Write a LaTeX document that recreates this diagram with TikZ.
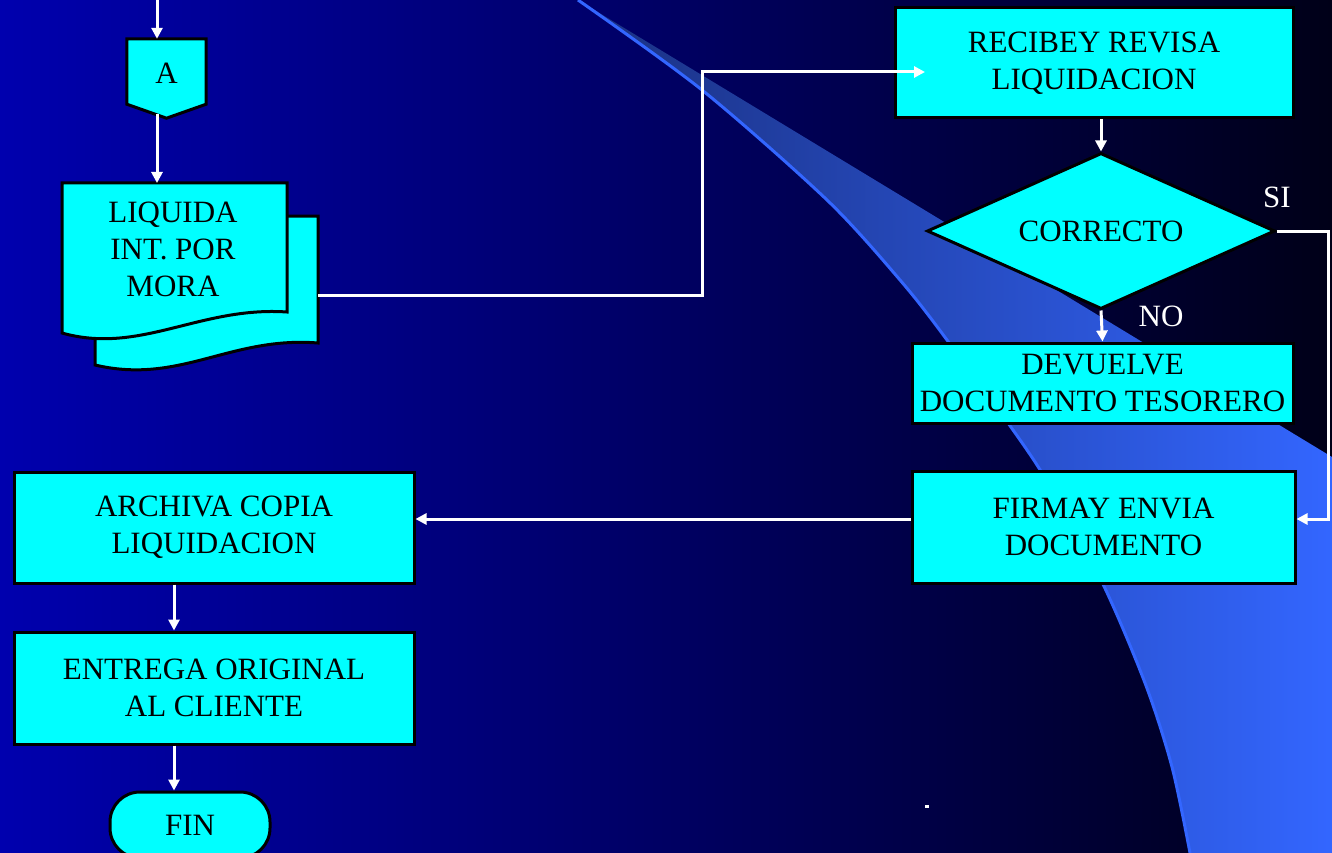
\documentclass[tikz,border=0pt]{standalone}
\usepackage{fontspec}
\setmainfont{Liberation Serif}
\usetikzlibrary{arrows.meta,shapes.geometric,calc}

\definecolor{boxcyan}{HTML}{00FFFF}
\definecolor{bgleft}{HTML}{0000AE}
\definecolor{bgmid}{HTML}{00007E}
\definecolor{bgright}{HTML}{000018}
\definecolor{swdark}{HTML}{1A3080}
\definecolor{swmid}{HTML}{2A50D2}
\definecolor{swlight}{HTML}{3366FF}

\newcommand\flowfont{\fontsize{31}{37}\selectfont}

\tikzset{
  flowbox/.style={draw=black, line width=3pt, fill=boxcyan, inner sep=0pt,
                  align=center, font=\flowfont, text=black},
  flowshape/.style={draw=black, line width=3pt, fill=boxcyan, line join=miter},
  blacktext/.style={inner sep=0pt, align=center, font=\flowfont, text=black},
  whitetext/.style={inner sep=0pt, font=\flowfont, text=white},
  conn/.style={draw=white, line width=3pt,
               -{Triangle[length=11pt,width=11pt]}},
}

\begin{document}
\begin{tikzpicture}[x=1pt,y=-1pt]
  \useasboundingbox (0,0) rectangle (1332,853);
  \clip (0,0) rectangle (1332,853);

  % background gradient
  \shade[left color=bgleft, middle color=bgmid, right color=bgright]
    (0,0) rectangle (1332,853);

  % decorative swoosh
  \shade[left color=swdark, middle color=swmid, right color=swlight]
    plot[smooth] coordinates {(578,0) (702,90) (827,200) (900,280) (947,340)
      (1037,465) (1100,578) (1145,683) (1172,767) (1190,853)}
    -- (1332,853) -- (1332,457) -- cycle;
  \draw[swlight, line width=3pt]
    plot[smooth] coordinates {(578,0) (702,90) (827,200) (900,280) (947,340)
      (1037,465) (1100,578) (1145,683) (1172,767) (1190,853)};

  % off-page connector A
  \node[inner sep=0pt, minimum width=79pt, minimum height=79pt] (offA) at (166.5,78.5) {};
  \filldraw[flowshape] (offA.north west) -- (offA.north east)
    -- ([yshift=14pt]offA.south east) -- (offA.south)
    -- ([yshift=14pt]offA.south west) -- cycle;
  \node[blacktext] (offAtxt) at (166.5,73) {A};
  \coordinate (topin) at (157,0);

  % multiple document
  \filldraw[flowshape] (95,216) -- (318,216) -- (318,343)
    .. controls (230,336) and (180,385) .. (95,365) -- cycle;
  \filldraw[flowshape] (62,183) -- (287,183) -- (287,312)
    .. controls (200,306) and (140,355) .. (62,333) -- cycle;
  \node[blacktext] (doctxt) at (173,249) {LIQUIDA\\INT. POR\\MORA};
  \coordinate (doctop) at (157,183);
  \coordinate (docout) at (318,295);

  % right column
  \node[flowbox, minimum width=398pt, minimum height=110pt] (rec) at (1094,63)
    {RECIBEY REVISA\\LIQUIDACION};
  \coordinate (recin) at (925,72);
  \node[flowbox, shape=diamond, aspect=2.23, minimum width=348pt,
        minimum height=156pt] (dec) at (1101,231) {CORRECTO};
  \node[flowbox, minimum width=381pt, minimum height=80pt] (dev) at (1102.5,383)
    {DEVUELVE\\DOCUMENTO TESORERO};
  \node[flowbox, minimum width=383pt, minimum height=112pt] (firm) at (1103.5,527)
    {FIRMAY ENVIA\\DOCUMENTO};

  % left column
  \node[flowbox, minimum width=400pt, minimum height=111pt] (arch) at (214,527.5)
    {ARCHIVA COPIA\\LIQUIDACION};
  \node[flowbox, minimum width=400pt, minimum height=112pt] (ent) at (214,688)
    {ENTREGA ORIGINAL\\AL CLIENTE};
  \node[flowbox, rounded corners=30pt, minimum width=160pt, minimum height=66pt]
    (fin) at (190,825) {FIN};

  % branch labels
  \node[whitetext] (si) at (1277,197) {SI};
  \node[whitetext] (no) at (1161,316) {NO};

  % connectors
  \draw[conn] (topin) -- (topin |- offA.north);
  \draw[conn] ([xshift=-9.5pt,yshift=4pt]offA.south) -- (doctop);
  \draw[conn] (docout) -- ++(384,0) |- (recin);
  \draw[conn] (dec.north |- rec.south) -- (dec.north);
  \draw[conn] (dec.east) -- ++(52,0) |- ([yshift=8pt]firm.east);
  \draw[conn] (dec.south) -- (dev.north);
  \draw[conn] ([yshift=8pt]firm.west) -- ([yshift=8pt]firm.west -| arch.east);
  \draw[conn] ([xshift=-40pt]arch.south) -- ([xshift=-40pt]ent.north);
  \draw[conn] ([xshift=-40pt]ent.south) -- ([xshift=-40pt]ent.south |- fin.north);

  % stray mark
  \fill[white] (925,805) rectangle (929,808);
\end{tikzpicture}
\end{document}
